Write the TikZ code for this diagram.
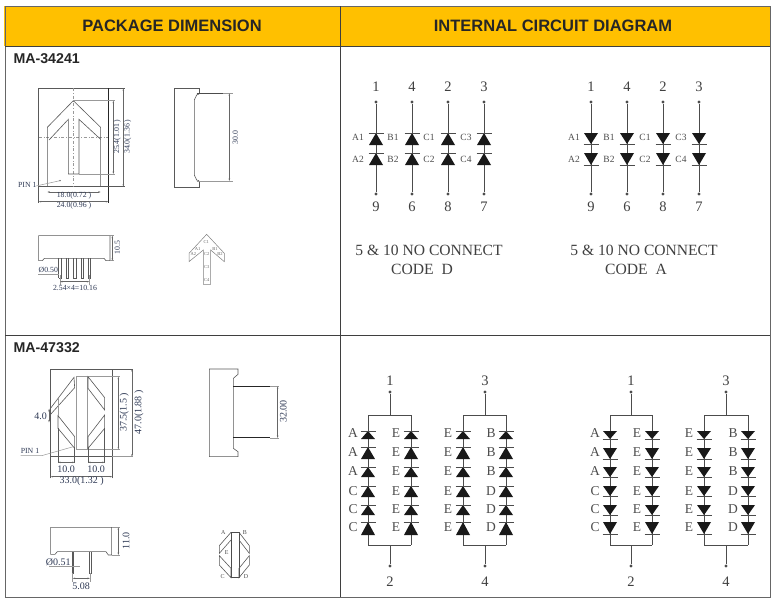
\documentclass[tikz,border=0pt]{standalone}
\usepackage{fontspec}
\setmainfont{Liberation Serif}
\newfontfamily\arial{Liberation Sans}
\usetikzlibrary{arrows.meta}

\definecolor{headfill}{HTML}{FFC000}
\definecolor{gridline}{HTML}{3F3F3F}
\definecolor{inkblue}{HTML}{2F3A55}

\newcommand{\headn}{\node[font=\arial\bfseries\fontsize{16.5}{18}\selectfont, text=black!85]}
\newcommand{\partn}{\node[font=\arial\bfseries\fontsize{14.2}{16}\selectfont, text=black!85, anchor=west]}
\newcommand{\numn}{\node[font=\fontsize{14.5}{16}\selectfont, text=black!75, inner sep=0pt]}
\newcommand{\capn}{\node[font=\fontsize{15.6}{17}\selectfont, text=black!75, inner sep=0pt]}
\newcommand{\segn}{\node[font=\fontsize{9.5}{11}\selectfont, text=black!70, inner sep=0pt]}
\newcommand{\letn}{\node[font=\fontsize{13.5}{15}\selectfont, text=black!70, inner sep=0pt]}
\newcommand{\dimn}{\node[font=\fontsize{7.8}{9}\selectfont, text=inkblue, inner sep=0pt]}
\newcommand{\dimb}{\node[font=\fontsize{10}{12}\selectfont, text=inkblue, inner sep=0pt]}
\newcommand{\pinn}{\node[circle, fill=black!70, inner sep=0pt, minimum size=3.4pt]}
\newcommand{\icon}{\node[font=\fontsize{4.5}{5}\selectfont, text=black!60, inner sep=0pt]}
\newcommand{\segl}{\node[font=\fontsize{6}{7}\selectfont, text=black!70, inner sep=0pt]}

% diode: x, y top, y bottom
\newcommand{\dup}[3]{
    \fill[black!90] (#1,#2) -- (#1+7,#3) -- (#1-7,#3) -- cycle;
    \draw[wire] (#1-7.5,#2) -- (#1+7.5,#2);
}
\newcommand{\ddown}[3]{
    \fill[black!90] (#1,#3) -- (#1+7,#2) -- (#1-7,#2) -- cycle;
    \draw[wire] (#1-7.5,#3) -- (#1+7.5,#3);
}
\newcommand{\rowsup}[1]{\foreach \yt/\yb in {431/439,447/459,467/477,486/497,505/515,522/535} {\dup{#1}{\yt}{\yb}}}
\newcommand{\rowsdown}[1]{\foreach \yt/\yb in {431/439,448/459,467/477,486/496,505/515,522/534} {\ddown{#1}{\yt}{\yb}}}
% letters beside a column: name, x, six letters
\newcommand{\letcol}[3]{
    \foreach \lab [count=\i] in {#3} {
        \pgfmathsetmacro{\yy}{{433,452,471,491,509,527}[\i-1]}
        \letn (#1\i) at (#2,\yy) {\lab};
    }
}
% single column of the upper pair: id, x, top pin, bottom pin
\newcommand{\pincol}[4]{
    \numn (t#1) at (#2,87) {#3};
    \pinn (p#1) at (#2,102) {};
    \pinn (q#1) at (#2,194) {};
    \numn (b#1) at (#2,207) {#4};
    \draw[wire] (p#1) -- (q#1);
}
% parallel block: id, x pin, x left, x right, top pin, bottom pin
\newcommand{\block}[6]{
    \numn (t#1) at (#2,381) {#5};
    \pinn (p#1) at (#2,392) {};
    \coordinate (j#1) at (#2,415);
    \coordinate (l#1) at (#3,415);
    \coordinate (r#1) at (#4,415);
    \coordinate (m#1) at (#3,545);
    \coordinate (n#1) at (#4,545);
    \coordinate (k#1) at (#2,545);
    \pinn (q#1) at (#2,566) {};
    \numn (b#1) at (#2,582) {#6};
    \draw[wire] (p#1) -- (j#1) (l#1) -- (r#1) (l#1) -- (m#1) (r#1) -- (n#1) (m#1) -- (n#1) (k#1) -- (q#1);
}

\tikzset{
    wire/.style={draw=black!70, line width=0.8pt},
    outline/.style={draw=black!65, line width=0.6pt},
    heavy/.style={draw=black!85, line width=0.9pt},
    faint/.style={draw=black!40, line width=0.5pt},
    size/.style={draw=black!60, line width=0.45pt, {Stealth[length=2.5pt,width=1.5pt]}-{Stealth[length=2.5pt,width=1.5pt]}},
    zoomed/.style={x=0.33333pt, y=-0.33333pt, shift={(0pt,-#1 pt)}},
}

\begin{document}
\begin{tikzpicture}[x=1pt, y=-1pt]
    \useasboundingbox (0,0) rectangle (773,603);
    \fill[white] (0,0) rectangle (773,603);

    % table
    \fill[headfill] (4,6) rectangle (770,46);
    \draw[black!60, line width=1pt] (5,6) -- (770,6) -- (770,597) -- (5,597) -- cycle;
    \draw[gridline, line width=0.8pt] (5,46) -- (770,46) (5,335) -- (770,335) (340,6) -- (340,597);
    \headn (hleft) at (172,26) {PACKAGE DIMENSION};
    \headn (hright) at (553,26) {INTERNAL CIRCUIT DIAGRAM};
    \partn (ma1) at (10,59) {MA-34241};
    \partn (ma2) at (10,348) {MA-47332};

    % upper package
    \begin{scope}[zoomed=50]
        \draw[outline] (116,458) -- (116,115) -- (375,115);
        \draw[heavy] (325,115) -- (325,458);
        \draw[outline] (116,410) -- (375,410);
        \draw[faint, dash dot] (116,262) -- (325,262) (220,115) -- (220,410);
        \draw[outline] (142,410) -- (142,232) -- (220,152) -- (302,232) -- (302,410);
        \draw[outline] (147,270) -- (205,208) -- (205,372) -- (237,372) -- (237,208) -- (302,268);
        \draw[faint] (220,152) -- (345,152) (237,372) -- (345,372);
        \draw[size] (340,152) -- (340,372);
        \draw[size] (370,115) -- (370,410);
        \draw[size] (142,426) -- (302,426);
        \draw[size] (116,455) -- (325,455);
        \dimn[rotate=90] (d1) at (352,260) {25.4(1.01 )};
        \dimn[rotate=90] (d2) at (383,260) {34.0(1.36 )};
        \dimn (d3) at (222,438) {18.0(0.72 )};
        \dimn (d4) at (222,468) {24.0(0.96 )};
        \dimn (pin1) at (82,405) {PIN 1};
        \fill[black!70] (180,392) circle (0.8pt);
        \draw[faint] (108,408) -- (180,392);

        \draw[outline] (597,132) -- (597,115) -- (523,115) -- (523,412) -- (597,412) -- (597,392);
        \draw[outline] (597,132) -- (590,135) -- (583,150) -- (583,375) -- (590,390) -- (597,392);
        \draw[black!70, line width=1.2pt] (590,130) -- (670,130);
        \draw[black!40, line width=1pt] (590,393) -- (670,393);
        \draw[faint] (670,130) -- (700,130) (670,393) -- (700,393);
        \draw[size] (688,130) -- (688,393);
        \dimn[rotate=90] (d5) at (706,262) {30.0};

        \draw[outline] (116,557) -- (116,632) -- (127,632) -- (133,625) -- (312,625) -- (318,632) -- (330,632) -- (330,557) -- cycle;
        \draw[faint] (330,557) -- (343,557) (330,632) -- (343,632);
        \draw[size] (337,557) -- (337,632);
        \dimn[rotate=90] (d6) at (352,592) {10.5};
        \draw[outline] (176,625) -- (176,685) (184,625) -- (184,685) -- (176,685);
        \draw[outline] (200,625) -- (200,685) -- (206,685) -- (206,625);
        \draw[outline] (221,625) -- (221,685) -- (228,685) -- (228,625);
        \draw[outline] (243,625) -- (243,685) -- (250,685) -- (250,625);
        \draw[outline] (266,625) -- (266,685) -- (272,685) -- (272,625);
        \draw[faint] (180,675) -- (180,705) (268,675) -- (268,705);
        \draw[size] (180,695) -- (268,695);
        \draw[faint] (115,672) -- (176,672);
        \dimn (d7) at (145,660) {Ø0.50};
        \dimn (d8) at (225,713) {2.54×4=10.16};

        \draw[faint, draw=black!50] (620,553) -- (567,610) -- (567,635) -- (610,600) -- (610,703) -- (632,703) -- (632,600) -- (673,635) -- (673,610) -- cycle;
        \icon (c1) at (619,575) {C1};
        \icon (c2) at (620,613) {C2};
        \icon (c3) at (620,650) {C3};
        \icon (c4) at (620,690) {C4};
        \icon (a1) at (580,613) {A2};
        \icon (a2) at (593,596) {A1};
        \icon (b1) at (645,596) {B1};
        \icon (b2) at (660,613) {B2};
    \end{scope}

    % lower package
    \begin{scope}[zoomed=335]
        \draw[outline] (152,430) -- (152,102) -- (400,102);
        \draw[outline] (337,430) -- (337,102);
        \draw[faint] (152,365) -- (400,365);
        \draw[outline] (152,365) -- (337,365);
        \draw[faint] (228,125) -- (360,125) (228,343) -- (360,343) (228,125) -- (228,343) (262,125) -- (262,343);
        \draw[size] (355,125) -- (355,343);
        \draw[size] (396,102) -- (396,365);
        \draw[size] (152,425) -- (337,425);
        \dimb[rotate=90] (e1) at (373,232) {37.5(1.5 )};
        \dimb[rotate=90] (e2) at (417,232) {47.0(1.88 )};
        \dimb (e3) at (245,438) {33.0(1.32 )};
        \dimb (e4) at (198,403) {10.0};
        \dimb (e5) at (288,403) {10.0};
        \dimb (e6) at (122,245) {4.0};
        \dimn (pin2) at (90,348) {PIN 1};
        \draw[outline] (222,127) -- (224,158) -- (150,240) -- (150,222) -- cycle;
        \draw[outline] (174,242) -- (224,305) -- (224,340) -- (174,280) -- cycle;
        \draw[outline] (264,125) -- (314,188) -- (314,225) -- (264,160) -- cycle;
        \draw[outline] (314,240) -- (264,305) -- (264,340) -- (314,280) -- cycle;
        \draw[faint] (174,190) -- (174,242);
        \draw[outline] (174,280) -- (174,385) (224,340) -- (224,385) (264,340) -- (264,385) (314,280) -- (314,385);
        \draw[size] (174,382) -- (224,382);
        \draw[size] (264,382) -- (314,382);
        \draw[size] (147,222) -- (147,262);
        \draw[faint] (62,362) -- (125,362) -- (220,335);

        \draw[outline] (628,102) -- (714,102) -- (714,118) -- (700,130) -- (700,340) -- (714,350) -- (714,365) -- (628,365) -- cycle;
        \draw[heavy] (700,154) -- (810,154) (700,306) -- (810,306);
        \draw[faint] (810,154) -- (838,154) (810,309) -- (838,309);
        \draw[size] (833,154) -- (833,309);
        \dimb[rotate=90] (e7) at (850,230) {32.00};

        \draw[outline] (152,577) -- (335,577) -- (335,660) -- (325,660) -- (318,650) -- (172,650) -- (165,658) -- (152,658) -- cycle;
        \draw[faint] (335,577) -- (360,577) (335,660) -- (360,660);
        \draw[size] (355,577) -- (355,660);
        \dimb[rotate=90] (e8) at (378,618) {11.0};
        \draw[outline] (216,650) -- (216,715) -- (221,715) -- (221,650);
        \draw[outline] (267,650) -- (267,715) -- (273,715) -- (273,650);
        \draw[faint] (218,715) -- (218,740) (270,715) -- (270,740);
        \draw[size] (218,730) -- (270,730);
        \draw[faint] (148,695) -- (240,695);
        \dimb (e9) at (175,682) {Ø0.51};
        \dimb (e10) at (243,753) {5.08};

        \draw[black!70, line width=1pt] (693,592) -- (717,592) -- (717,728) -- (693,728) -- cycle;
        \draw[outline] (693,592) -- (658,632) -- (658,655) -- (693,615);
        \draw[outline] (658,662) -- (693,700) -- (693,728) -- (658,690) -- cycle;
        \draw[outline] (717,592) -- (748,632) -- (748,655) -- (717,615);
        \draw[outline] (748,662) -- (717,700) -- (717,728) -- (748,690) -- cycle;
        \segl (sa) at (670,592) {A};
        \segl (sb) at (735,592) {B};
        \segl (sc) at (668,725) {C};
        \segl (sd) at (738,725) {D};
        \segl (se) at (680,652) {E};
    \end{scope}

    % code D, upper right
    \pincol{da}{376}{1}{9}
    \pincol{db}{412}{4}{6}
    \pincol{dc}{448}{2}{8}
    \pincol{dd}{484}{3}{7}
    \foreach \xx in {376,412,448,484} {
        \dup{\xx}{133}{145}
        \dup{\xx}{153}{165}
    }
    \segn (la1) at (358,137) {A1};
    \segn (la2) at (358,159) {A2};
    \segn (lb1) at (393,137) {B1};
    \segn (lb2) at (393,159) {B2};
    \segn (lc1) at (429,137) {C1};
    \segn (lc2) at (429,159) {C2};
    \segn (lc3) at (466,137) {C3};
    \segn (lc4) at (466,159) {C4};
    \capn (capd) at (429,250) {5 \& 10 NO CONNECT};
    \capn (coded) at (422,269) {CODE\ \ D};

    % code A, upper right
    \pincol{aa}{591}{1}{9}
    \pincol{ab}{627}{4}{6}
    \pincol{ac}{663}{2}{8}
    \pincol{ad}{699}{3}{7}
    \foreach \xx in {591,627,663,699} {
        \ddown{\xx}{133}{144}
        \ddown{\xx}{153}{165}
    }
    \segn (ma1b) at (574,137) {A1};
    \segn (ma2b) at (574,159) {A2};
    \segn (mb1) at (609,137) {B1};
    \segn (mb2) at (609,159) {B2};
    \segn (mc1) at (645,137) {C1};
    \segn (mc2) at (645,159) {C2};
    \segn (mc3) at (681,137) {C3};
    \segn (mc4) at (681,159) {C4};
    \capn (capa) at (644,250) {5 \& 10 NO CONNECT};
    \capn (codea) at (636,269) {CODE\ \ A};

    % parallel blocks, lower right
    \block{u}{390}{368}{411}{1}{2}
    \block{v}{485}{463}{506}{3}{4}
    \block{w}{631}{610}{652}{1}{2}
    \block{x}{726}{704}{748}{3}{4}
    \rowsup{368}
    \rowsup{411}
    \rowsup{463}
    \rowsup{506}
    \rowsdown{610}
    \rowsdown{652}
    \rowsdown{704}
    \rowsdown{748}
    \letcol{ua}{353}{A,A,A,C,C,C}
    \letcol{ue}{396}{E,E,E,E,E,E}
    \letcol{ve}{448}{E,E,E,E,E,E}
    \letcol{vb}{491}{B,B,B,D,D,D}
    \letcol{wa}{595}{A,A,A,C,C,C}
    \letcol{we}{637}{E,E,E,E,E,E}
    \letcol{xe}{689}{E,E,E,E,E,E}
    \letcol{xb}{733}{B,B,B,D,D,D}
\end{tikzpicture}
\end{document}
